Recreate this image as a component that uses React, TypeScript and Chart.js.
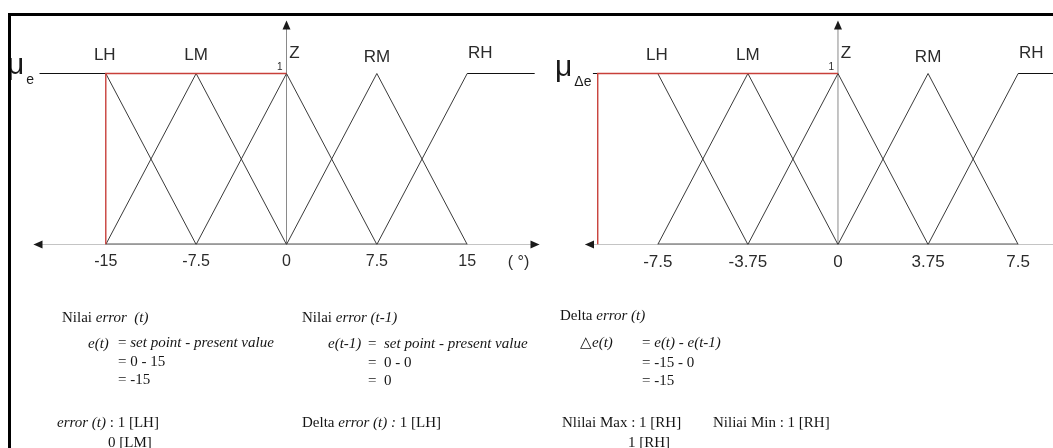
import React, { useEffect, useRef } from 'react';
import { Chart, registerables } from 'chart.js';
Chart.register(...registerables);

// ---- data ----
const termNames = ['LH', 'LM', 'Z', 'RM', 'RH'];

const errorPeaks = [-15, -7.5, 0, 7.5, 15];
const errorTickLabels = ['-15', '-7.5', '0', '7.5', '15'];
const errorLH = [{ x: -20.5, y: 1 }, { x: -15, y: 1 }, { x: -7.5, y: 0 }];
const errorLM = [{ x: -15, y: 0 }, { x: -7.5, y: 1 }, { x: 0, y: 0 }];
const errorZ = [{ x: -7.5, y: 0 }, { x: 0, y: 1 }, { x: 7.5, y: 0 }];
const errorRM = [{ x: 0, y: 0 }, { x: 7.5, y: 1 }, { x: 15, y: 0 }];
const errorRH = [{ x: 7.5, y: 0 }, { x: 15, y: 1 }, { x: 20.6, y: 1 }];
const errorInput = [{ x: -15, y: 0 }, { x: -15, y: 1 }, { x: 0, y: 1 }];

const deltaPeaks = [-7.5, -3.75, 0, 3.75, 7.5];
const deltaTickLabels = ['-7.5', '-3.75', '0', '3.75', '7.5'];
const deltaLH = [{ x: -10.2, y: 1 }, { x: -7.5, y: 1 }, { x: -3.75, y: 0 }];
const deltaLM = [{ x: -7.5, y: 0 }, { x: -3.75, y: 1 }, { x: 0, y: 0 }];
const deltaZ = [{ x: -3.75, y: 0 }, { x: 0, y: 1 }, { x: 3.75, y: 0 }];
const deltaRM = [{ x: 0, y: 0 }, { x: 3.75, y: 1 }, { x: 7.5, y: 0 }];
const deltaRH = [{ x: 3.75, y: 0 }, { x: 7.5, y: 1 }, { x: 8.95, y: 1 }];
const deltaInput = [{ x: -10, y: 0 }, { x: -10, y: 1 }, { x: 0, y: 1 }];

const errorRange = [-21, 21];
const deltaRange = [-10.53, 8.95];
const yTop = 1.31;

// ---- styling ----
const SANS = '"Liberation Sans", Arial, sans-serif';
const SERIF = '"Liberation Serif", "Times New Roman", serif';
const TERM_COLOR = '#3a3a3a';
const RED = '#c8403a';

type Spec = {
  terms: { x: number; y: number }[][];
  input: { x: number; y: number }[];
  peaks: number[];
  tickLabels: string[];
  range: number[];
  padLeft: number;
  padRight: number;
  rightArrow: boolean;
  mu: string;
  muSub: string;
  muX: number;
  muY: number;
  unit?: string;
  tickFont: number;
};

function buildChart(canvas: HTMLCanvasElement, s: Spec) {
  const [xmin, xmax] = s.range;
  const datasets: any[] = [];
  // red input marker (drawn on top: lowest order)
  datasets.push({ data: s.input, borderColor: RED, borderWidth: 1.4, order: 0 });
  // membership functions
  s.terms.forEach((t) => {
    datasets.push({
      data: t,
      borderColor: TERM_COLOR,
      borderWidth: 1,
      order: 5,
      segment: {
        borderColor: (ctx: any) => (ctx.p0.parsed.y === 1 && ctx.p1.parsed.y === 1 ? '#111' : undefined),
      },
    });
  });
  // axes
  datasets.push({ data: [{ x: xmin, y: 0 }, { x: xmax, y: 0 }], borderColor: '#8a8a8a', borderWidth: 1, order: 9 });
  datasets.push({ data: [{ x: s.peaks[0], y: 0 }, { x: s.peaks[s.peaks.length - 1], y: 0 }], borderColor: '#555', borderWidth: 2, order: 9 });
  datasets.push({ data: [{ x: 0, y: 0 }, { x: 0, y: yTop - 0.03 }], borderColor: '#8a8a8a', borderWidth: 1, order: 9 });
  datasets.forEach((d) => {
    d.showLine = true;
    d.pointRadius = 0;
    d.tension = 0;
    d.fill = false;
  });

  const overlay = {
    id: 'overlay',
    afterDatasetsDraw(chart: any) {
      const { ctx } = chart;
      const xs = chart.scales.x;
      const ys = chart.scales.y;
      const y0 = ys.getPixelForValue(0);
      const x0 = xs.getPixelForValue(0);
      ctx.save();
      ctx.fillStyle = '#1a1a1a';
      // left arrow
      const lx = xs.getPixelForValue(xmin);
      ctx.beginPath();
      ctx.moveTo(lx, y0);
      ctx.lineTo(lx + 9, y0 - 4);
      ctx.lineTo(lx + 9, y0 + 4);
      ctx.closePath();
      ctx.fill();
      if (s.rightArrow) {
        const rx = xs.getPixelForValue(xmax);
        ctx.beginPath();
        ctx.moveTo(rx, y0);
        ctx.lineTo(rx - 9, y0 - 4);
        ctx.lineTo(rx - 9, y0 + 4);
        ctx.closePath();
        ctx.fill();
      }
      // up arrow
      const ty = ys.getPixelForValue(yTop);
      ctx.beginPath();
      ctx.moveTo(x0, ty);
      ctx.lineTo(x0 - 4, ty + 9);
      ctx.lineTo(x0 + 4, ty + 9);
      ctx.closePath();
      ctx.fill();

      // term labels
      ctx.fillStyle = '#2b2b2b';
      ctx.textBaseline = 'middle';
      ctx.textAlign = 'center';
      ctx.font = `17px ${SANS}`;
      termNames.forEach((n, i) => {
        let px = xs.getPixelForValue(s.peaks[i]);
        let py = 55;
        if (n === 'Z') { px += 8; py = 53; }
        if (n === 'RH') { px += 13; py = 53; }
        if (n === 'RM') { py = 57; }
        if (n === 'LH') { px -= 1; }
        ctx.fillText(n, px, py);
      });
      // tick labels
      ctx.font = `${s.tickFont}px ${SANS}`;
      s.tickLabels.forEach((t, i) => {
        ctx.fillText(t, xs.getPixelForValue(s.peaks[i]), 262);
      });
      if (s.unit) {
        ctx.fillText(s.unit, xs.getPixelForValue(xmax) - 21, 263);
      }
      // "1"
      ctx.font = `10px ${SANS}`;
      ctx.textAlign = 'right';
      ctx.fillText('1', x0 - 4, ys.getPixelForValue(1) - 6);
      // mu
      ctx.textAlign = 'left';
      ctx.textBaseline = 'alphabetic';
      ctx.fillStyle = '#1a1a1a';
      ctx.font = `30px ${SANS}`;
      ctx.fillText(s.mu, s.muX, s.muY);
      const mw = ctx.measureText(s.mu).width;
      ctx.font = `14px ${SANS}`;
      ctx.fillText(s.muSub, s.muX + mw + 2, s.muY + 10);
      ctx.restore();
    },
  };

  return new Chart(canvas, {
    type: 'scatter',
    data: { datasets },
    options: {
      animation: false,
      responsive: false,
      maintainAspectRatio: false,
      devicePixelRatio: 1,
      events: [],
      layout: { padding: { left: s.padLeft, right: s.padRight, top: 20.5, bottom: 55.5 } },
      plugins: { legend: { display: false }, tooltip: { enabled: false } },
      scales: {
        x: { type: 'linear', min: xmin, max: xmax, display: false },
        y: { type: 'linear', min: 0, max: yTop, display: false },
      },
    },
    plugins: [overlay],
  } as any);
}

function FuzzyChart({ spec, left, width }: { spec: Spec; left: number; width: number }) {
  const ref = useRef<HTMLCanvasElement>(null);
  useEffect(() => {
    if (!ref.current) return;
    const c = buildChart(ref.current, spec);
    return () => c.destroy();
  }, []);
  return (
    <canvas
      ref={ref}
      width={width}
      height={300}
      style={{ position: 'absolute', left, top: 0, width, height: 300, display: 'block' }}
    />
  );
}

const errorSpec: Spec = {
  terms: [errorLH, errorLM, errorZ, errorRM, errorRH],
  input: errorInput,
  peaks: errorPeaks,
  tickLabels: errorTickLabels,
  range: errorRange,
  padLeft: 33.5,
  padRight: 5.5,
  rightArrow: true,
  mu: 'μ',
  muSub: 'e',
  muX: 7,
  muY: 74,
  unit: '( °)',
  tickFont: 16,
};

const deltaSpec: Spec = {
  terms: [deltaLH, deltaLM, deltaZ, deltaRM, deltaRH],
  input: deltaInput,
  peaks: deltaPeaks,
  tickLabels: deltaTickLabels,
  range: deltaRange,
  padLeft: 40,
  padRight: 0,
  rightArrow: false,
  mu: 'μ',
  muSub: 'Δe',
  muX: 10,
  muY: 76,
  tickFont: 17,
};

const line = (x: number, y: number, content: React.ReactNode, key: string) => (
  <div
    key={key}
    style={{
      position: 'absolute',
      left: x,
      top: y - 9,
      lineHeight: '18px',
      fontSize: 15,
      fontFamily: SERIF,
      color: '#151515',
      whiteSpace: 'pre',
    }}
  >
    {content}
  </div>
);

export default function App() {
  return (
    <div
      style={{
        position: 'fixed',
        left: 0,
        top: 0,
        width: 1053,
        height: 448,
        background: '#fff',
        overflow: 'hidden',
      }}
    >
      <FuzzyChart spec={errorSpec} left={0} width={545} />
      <FuzzyChart spec={deltaSpec} left={545} width={508} />
      <div
        style={{
          position: 'absolute',
          left: 8,
          top: 13,
          width: 1045,
          height: 435,
          borderTop: '3px solid #000',
          borderLeft: '3px solid #000',
          boxSizing: 'border-box',
          pointerEvents: 'none',
        }}
      />
      {line(62, 317, <>Nilai <i>error  (t)</i></>, 'a1')}
      {line(88, 343, <i>e(t)</i>, 'a2')}
      {line(118, 342, <>= <i>set point - present value</i></>, 'a3')}
      {line(118, 361, <>= 0 - 15</>, 'a4')}
      {line(118, 379, <>= -15</>, 'a5')}
      {line(57, 422, <><i>error (t)</i> : 1 [LH]</>, 'a6')}
      {line(108, 442, <>0 [LM]</>, 'a7')}

      {line(302, 317, <>Nilai <i>error (t-1)</i></>, 'b1')}
      {line(328, 343, <i>e(t-1)</i>, 'b2')}
      {line(368, 343, <>=  <i>set point - present value</i></>, 'b3')}
      {line(368, 362, <>=  0 - 0</>, 'b4')}
      {line(368, 380, <>=  0</>, 'b5')}
      {line(302, 422, <>Delta <i>error (t) :</i> 1 [LH]</>, 'b6')}

      {line(560, 315, <>Delta <i>error (t)</i></>, 'c1')}
      {line(580, 342, <>△<i>e(t)</i></>, 'c2')}
      {line(642, 342, <>= <i>e(t)</i> - <i>e(t-1)</i></>, 'c3')}
      {line(642, 362, <>= -15 - 0</>, 'c4')}
      {line(642, 380, <>= -15</>, 'c5')}
      {line(562, 422, <>Nlilai Max : 1 [RH]</>, 'c6')}
      {line(628, 442, <>1 [RH]</>, 'c7')}
      {line(713, 422, <>Niliai Min : 1 [RH]</>, 'c8')}
    </div>
  );
}
